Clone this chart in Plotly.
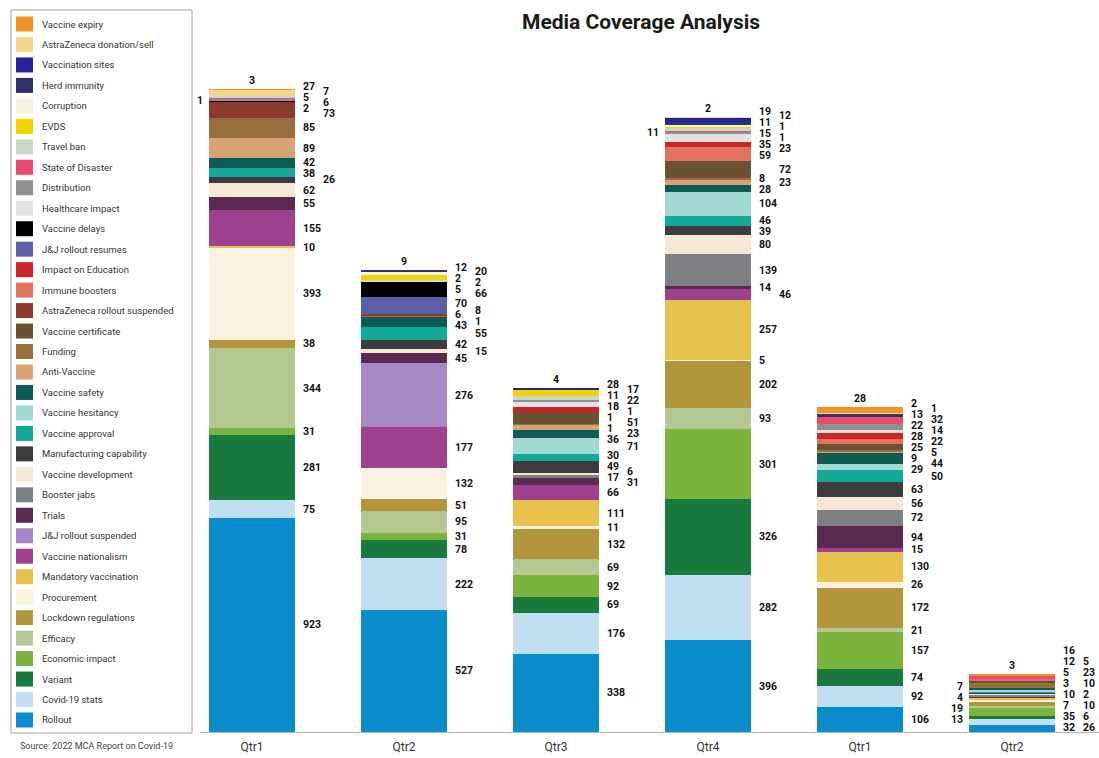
import plotly.graph_objects as go

# ---- data -------------------------------------------------------------
periods = ["Qtr1", "Qtr2", "Qtr3", "Qtr4", "Qtr1", "Qtr2"]

# mentions per topic and quarter (stack order: bottom first)
rollout = [923, 527, 338, 396, 106, 32]
covid_stats = [75, 222, 176, 282, 92, 26]
variant = [281, 78, 69, 326, 74, 13]
economic_impact = [31, 31, 92, 301, 157, 35]
efficacy = [344, 95, 69, 93, 21, 6]
lockdown_regulations = [38, 51, 132, 202, 172, 19]
procurement = [393, 132, 11, 5, 26, 7]
mandatory_vaccination = [10, 0, 111, 257, 130, 10]
vaccine_nationalism = [155, 177, 66, 46, 15, 0]
jj_rollout_suspended = [0, 276, 0, 0, 0, 0]
trials = [55, 45, 31, 14, 94, 4]
booster_jabs = [0, 0, 17, 139, 72, 10]
vaccine_development = [62, 15, 6, 80, 56, 2]
manufacturing_capability = [26, 42, 49, 39, 63, 7]
vaccine_approval = [38, 55, 30, 46, 50, 3]
vaccine_hesitancy = [0, 0, 71, 104, 29, 10]
vaccine_safety = [42, 43, 36, 28, 44, 5]
anti_vaccine = [89, 1, 23, 23, 9, 0]
funding = [85, 6, 1, 8, 5, 23]
vaccine_certificate = [0, 0, 51, 72, 25, 12]
az_rollout_suspended = [73, 8, 1, 0, 0, 0]
immune_boosters = [0, 0, 1, 59, 22, 5]
impact_on_education = [0, 0, 18, 23, 28, 0]
jj_rollout_resumes = [0, 70, 0, 0, 0, 0]
vaccine_delays = [1, 66, 0, 0, 0, 0]
healthcare_impact = [2, 5, 22, 35, 14, 0]
distribution = [6, 2, 11, 11, 22, 0]
state_of_disaster = [5, 0, 0, 1, 32, 16]
travel_ban = [7, 2, 17, 15, 0, 0]
evds = [0, 20, 28, 1, 0, 0]
corruption = [0, 12, 0, 11, 0, 0]
herd_immunity = [0, 9, 0, 12, 13, 0]
vaccination_sites = [0, 0, 4, 19, 1, 0]
az_donation_sell = [27, 0, 0, 2, 2, 0]
vaccine_expiry = [3, 0, 0, 0, 28, 3]

series = [
    ("Rollout", rollout),
    ("Covid-19 stats", covid_stats),
    ("Variant", variant),
    ("Economic impact", economic_impact),
    ("Efficacy", efficacy),
    ("Lockdown regulations", lockdown_regulations),
    ("Procurement", procurement),
    ("Mandatory vaccination", mandatory_vaccination),
    ("Vaccine nationalism", vaccine_nationalism),
    ("J&J rollout suspended", jj_rollout_suspended),
    ("Trials", trials),
    ("Booster jabs", booster_jabs),
    ("Vaccine development", vaccine_development),
    ("Manufacturing capability", manufacturing_capability),
    ("Vaccine approval", vaccine_approval),
    ("Vaccine hesitancy", vaccine_hesitancy),
    ("Vaccine safety", vaccine_safety),
    ("Anti-Vaccine", anti_vaccine),
    ("Funding", funding),
    ("Vaccine certificate", vaccine_certificate),
    ("AstraZeneca rollout suspended", az_rollout_suspended),
    ("Immune boosters", immune_boosters),
    ("Impact on Education", impact_on_education),
    ("J&J rollout resumes", jj_rollout_resumes),
    ("Vaccine delays", vaccine_delays),
    ("Healthcare impact", healthcare_impact),
    ("Distribution", distribution),
    ("State of Disaster", state_of_disaster),
    ("Travel ban", travel_ban),
    ("EVDS", evds),
    ("Corruption", corruption),
    ("Herd immunity", herd_immunity),
    ("Vaccination sites", vaccination_sites),
    ("AstraZeneca donation/sell", az_donation_sell),
    ("Vaccine expiry", vaccine_expiry),
]

colors = {
    "Rollout": "#0a8bcb",
    "Covid-19 stats": "#c2def2",
    "Variant": "#187a3c",
    "Economic impact": "#7ab43c",
    "Efficacy": "#b4c891",
    "Lockdown regulations": "#b3963c",
    "Procurement": "#f8f2de",
    "Mandatory vaccination": "#e6c24c",
    "Vaccine nationalism": "#a0418f",
    "J&J rollout suspended": "#a788c6",
    "Trials": "#5a2952",
    "Booster jabs": "#7e8084",
    "Vaccine development": "#f5e9d5",
    "Manufacturing capability": "#3d3b3e",
    "Vaccine approval": "#12a89a",
    "Vaccine hesitancy": "#a2d9d3",
    "Vaccine safety": "#0d5b55",
    "Anti-Vaccine": "#d9a274",
    "Funding": "#98703f",
    "Vaccine certificate": "#6a5232",
    "AstraZeneca rollout suspended": "#8b3b2c",
    "Immune boosters": "#e0745e",
    "Impact on Education": "#c9262b",
    "J&J rollout resumes": "#5c60a9",
    "Vaccine delays": "#000000",
    "Healthcare impact": "#e2e2e2",
    "Distribution": "#8f8f8f",
    "State of Disaster": "#e84a72",
    "Travel ban": "#c8dac6",
    "EVDS": "#f2d300",
    "Corruption": "#f5f1e1",
    "Herd immunity": "#2e3566",
    "Vaccination sites": "#24239b",
    "AstraZeneca donation/sell": "#f2d68c",
    "Vaccine expiry": "#f39325",
}

# ---- geometry (pixels of the 1099 x 758 page) -------------------------
W, H_FIG = 1099, 758
PLOT_LEFT, AXIS_Y, PLOT_TOP = 200, 732, 50
PLOT_H = AXIS_Y - PLOT_TOP
Y_MAX = 2940
K = PLOT_H / Y_MAX          # pixels per mention
BAR_W = 0.56
FONT = "Roboto, Arial, sans-serif"


def px_x(px):
    return px / W


def px_y(py):
    return 1 - py / H_FIG


fig = go.Figure()
xs = list(range(len(periods)))
for name, vals in series:
    fig.add_trace(go.Bar(
        x=xs, y=vals, name=name, width=BAR_W,
        marker=dict(color=colors[name], line=dict(width=0)),
        showlegend=False,
        hovertemplate=name + ": %{y}<extra></extra>",
    ))

# ---- value labels -----------------------------------------------------
label_font = dict(family=FONT, size=10.5, color="#111")
LINE = 11.0
# column: (x offset in bar units, anchor, pixel shift, placement penalty)
COLS = {
    "r1": (BAR_W / 2, "left", 8, 0.0),
    "r2": (BAR_W / 2, "left", 28, 3.0),
    "l": (-BAR_W / 2, "right", -6, 20.0),
}
annotations = []


def cluster_top(cl):
    n = len(cl)
    p0 = sum(t + j * LINE for j, t in enumerate(cl)) / n
    low = p0 - (n - 1) * LINE
    if low < 5:
        p0 += 5 - low
    return p0


def label(x, y, text, anchor, yanchor="middle", xshift=0, yshift=0):
    return dict(
        x=x, y=y, xref="x", yref="y", text=f"<b>{text}</b>",
        xanchor=anchor, yanchor=yanchor, xshift=xshift, yshift=yshift,
        showarrow=False, font=label_font, borderpad=0, borderwidth=0,
    )


for i in xs:
    segs = []
    base = 0
    for name, vals in series:
        v = vals[i]
        if v > 0:
            segs.append((v, base))
            base += v
    total = base
    annotations.append(label(i, total, segs[-1][0], "center", "bottom", yshift=2))

    last = {c: float("inf") for c in COLS}
    placed = {c: [] for c in COLS}
    for v, b in reversed(segs[:-1]):
        want = (b + v / 2) * K
        best = None
        for c, (_, _, _, pen) in COLS.items():
            y = min(want, last[c] - LINE)
            cost = (want - y) + pen
            if best is None or cost < best[1]:
                best = (c, cost, y)
        last[best[0]] = best[2]
        placed[best[0]].append((want, v))

    for c, items in placed.items():
        clusters = []
        for want, v in items:
            clusters.append([[want], [v]])
            while len(clusters) > 1:
                a, bcl = clusters[-2], clusters[-1]
                a_low = cluster_top(a[0]) - (len(a[0]) - 1) * LINE
                if cluster_top(bcl[0]) > a_low - LINE:
                    a[0].extend(bcl[0])
                    a[1].extend(bcl[1])
                    clusters.pop()
                else:
                    break
        dx, anchor, shift, _ = COLS[c]
        for targets, values in clusters:
            p0 = cluster_top(targets)
            for j, v in enumerate(values):
                annotations.append(label(i + dx, (p0 - j * LINE) / K, v, anchor, xshift=shift))

# ---- legend panel -----------------------------------------------------
shapes = [dict(
    type="rect", xref="paper", yref="paper",
    x0=px_x(11), x1=px_x(192), y0=px_y(733), y1=px_y(10),
    line=dict(color="#a0a0a0", width=1), fillcolor="rgba(0,0,0,0)",
)]
ITEM0, STEP = 24, 20.47
for j, (name, _) in enumerate(reversed(series)):
    cy = ITEM0 + STEP * j
    shapes.append(dict(
        type="rect", xref="paper", yref="paper",
        x0=px_x(16), x1=px_x(33), y0=px_y(cy + 7.5), y1=px_y(cy - 7.5),
        line=dict(width=0), fillcolor=colors[name],
    ))
    annotations.append(dict(
        x=px_x(40), y=px_y(cy), xref="paper", yref="paper", text=name,
        xanchor="left", yanchor="middle", showarrow=False,
        font=dict(family=FONT, size=9.5, color="#333"),
    ))

annotations.append(dict(
    x=px_x(641), y=px_y(22), xref="paper", yref="paper",
    text="<b>Media Coverage Analysis</b>", xanchor="center", yanchor="middle",
    showarrow=False, font=dict(family=FONT, size=21, color="#1a1a1a"),
))
annotations.append(dict(
    x=px_x(18), y=px_y(746), xref="paper", yref="paper",
    text="Source: 2022 MCA Report on Covid-19", xanchor="left", yanchor="middle",
    showarrow=False, font=dict(family=FONT, size=9, color="#444"),
))

fig.update_layout(
    width=W, height=H_FIG,
    margin=dict(l=0, r=0, t=0, b=0),
    barmode="stack",
    bargap=0,
    plot_bgcolor="white", paper_bgcolor="white",
    shapes=shapes, annotations=annotations,
    xaxis=dict(
        domain=[PLOT_LEFT / W, 1], range=[-0.342, 5.572],
        tickvals=xs, ticktext=periods, showgrid=False, zeroline=False,
        showline=True, linecolor="#b5b5b5", linewidth=1, ticks="",
        ticklabelstandoff=4,
        tickfont=dict(family=FONT, size=12, color="#333"), automargin=False,
    ),
    yaxis=dict(
        domain=[1 - AXIS_Y / H_FIG, 1 - PLOT_TOP / H_FIG], range=[0, Y_MAX],
        visible=False, automargin=False,
    ),
)

fig.write_html("out.html")
